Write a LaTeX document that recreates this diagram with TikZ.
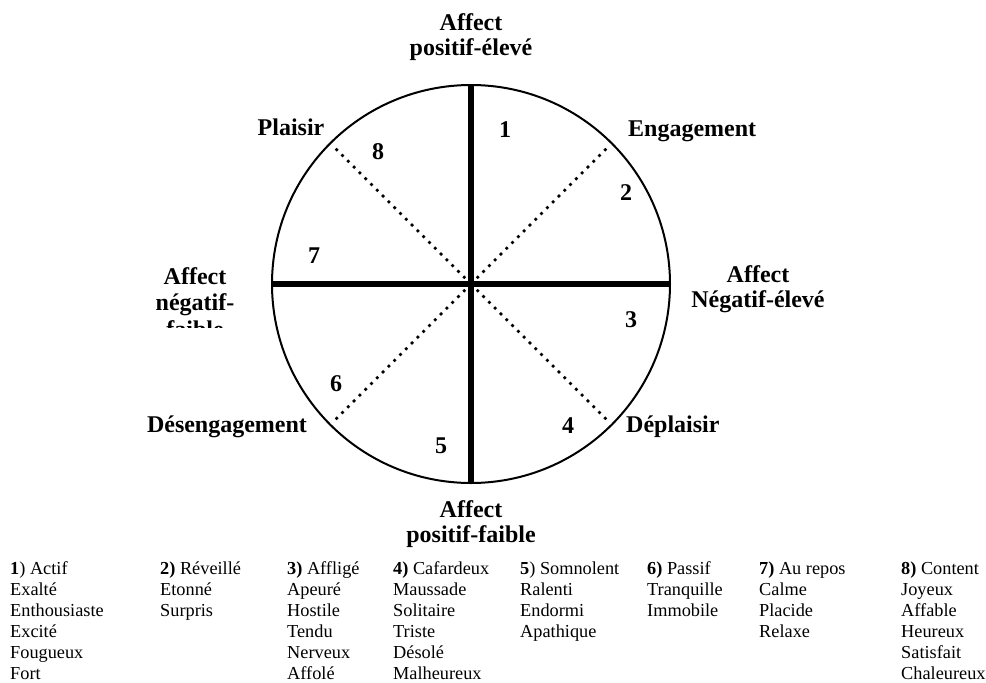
\documentclass[tikz,border=0pt]{standalone}
\usepackage{fontspec}
\setmainfont{Liberation Serif}
\begin{document}
\begin{tikzpicture}[x=1pt,y=-1pt,
  lab/.style={font=\fontsize{24}{25}\selectfont\bfseries, align=center, anchor=base, inner sep=0pt},
  num/.style={font=\fontsize{24}{25}\selectfont\bfseries, anchor=base, inner sep=0pt},
  col/.style={font=\fontsize{18.3}{21}\selectfont, align=left, anchor=base west, inner sep=0pt},
  axis/.style={line width=5.8pt},
  diag/.style={line width=2.7pt, dash pattern=on 2.7pt off 5.5pt},
  rim/.style={line width=2pt}]
\useasboundingbox (0,0) rectangle (986,683);
\fill[white] (0,0) rectangle (986,683);
\coordinate (c) at (471,284);
\coordinate (t) at (471,85);
\coordinate (b) at (471,483);
\coordinate (l) at (272,284);
\coordinate (r) at (670,284);
\coordinate (ul) at (335,148);
\coordinate (ur) at (607,148);
\coordinate (lr) at (607,420);
\coordinate (ll) at (335,420);
\draw[diag] (c) -- (ul);
\draw[diag] (c) -- (ur);
\draw[diag] (c) -- (lr);
\draw[diag] (c) -- (ll);
\draw[axis] (t) -- (b);
\draw[axis] (l) -- (r);
\draw[rim] (c) circle[radius=199];
% labels (multi-line nodes: base = baseline of last line)
\node[lab] (ape) at (471,55) {Affect\\positif-élevé};
\node[lab, anchor=base west] (eng) at (628,136) {Engagement};
\node[lab] (pla) at (291,135) {Plaisir};
\node[lab] (ane) at (758,307) {Affect\\Négatif-élevé};
\node[lab, anchor=base west] (dep) at (626,432) {Déplaisir};
\node[lab] (des) at (227,432) {Désengagement};
\begin{scope}
\clip (100,240) rectangle (290,327.5);
\node[lab] (anf) at (195,337) {Affect\\[1.5pt]négatif-\\[1.5pt]faible};
\end{scope}
\begin{scope}
\clip (300,490) rectangle (640,547.5);
\node[lab] (apf) at (471,542) {Affect\\positif-faible};
\end{scope}
% numbers
\node[num] (n1) at (505,137) {1};
\node[num] (n2) at (626,200) {2};
\node[num] (n3) at (631,327) {3};
\node[num] (n4) at (568,433) {4};
\node[num] (n5) at (441,453) {5};
\node[num] (n6) at (336,391) {6};
\node[num] (n7) at (314,263) {7};
\node[num] (n8) at (378,159) {8};
% table
\node[col] (c1) at (10,679) {\textbf{1}) Actif\\Exalté\\Enthousiaste\\Excité\\Fougueux\\Fort};
\node[col] (c2) at (160,616) {\textbf{2)} Réveillé\\Etonné\\Surpris};
\node[col] (c3) at (287,679) {\textbf{3)} Affligé\\Apeuré\\Hostile\\Tendu\\Nerveux\\Affolé};
\node[col] (c4) at (393,679) {\textbf{4)} Cafardeux\\Maussade\\Solitaire\\Triste\\Désolé\\Malheureux};
\node[col] (c5) at (520,637) {\textbf{5}) Somnolent\\Ralenti\\Endormi\\Apathique};
\node[col] (c6) at (647,616) {\textbf{6)} Passif\\Tranquille\\Immobile};
\node[col] (c7) at (759,637) {\textbf{7)} Au repos\\Calme\\Placide\\Relaxe};
\node[col] (c8) at (901,679) {\textbf{8)} Content\\Joyeux\\Affable\\Heureux\\Satisfait\\Chaleureux};
\end{tikzpicture}
\end{document}
